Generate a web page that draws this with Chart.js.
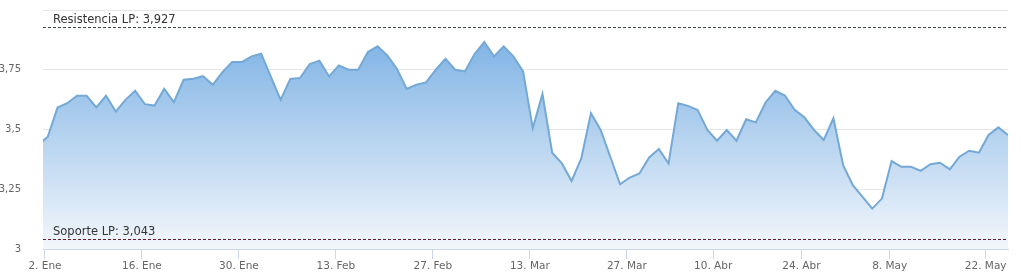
<!DOCTYPE html>
<html>
<head>
<meta charset="utf-8">
<script src="https://cdn.jsdelivr.net/npm/chart.js@4/dist/chart.umd.min.js"></script>
<style>
  html, body { margin: 0; padding: 0; background: #fff; }
  #wrap { width: 1021px; height: 279px; position: relative; }
</style>
</head>
<body>
<div id="wrap"><canvas id="chart"></canvas></div>
<script>
// daily closes, one per trading day (index 0 sits just left of the plot)
const PRECIOS = [
  3.435, 3.47, 3.592, 3.61, 3.641, 3.641, 3.592, 3.641, 3.575, 3.624,
  3.662, 3.606, 3.60, 3.67, 3.614, 3.708, 3.712, 3.723, 3.687, 3.74,
  3.782, 3.782, 3.806, 3.817, 3.72, 3.624, 3.712, 3.715, 3.774, 3.788,
  3.722, 3.768, 3.75, 3.75, 3.824, 3.848, 3.81, 3.753, 3.67, 3.687,
  3.697, 3.75, 3.796, 3.75, 3.743, 3.816, 3.866, 3.806, 3.848, 3.806,
  3.743, 3.505, 3.649, 3.403, 3.358, 3.285, 3.379, 3.568, 3.498, 3.385,
  3.271, 3.299, 3.316, 3.383, 3.418, 3.358, 3.61, 3.599, 3.582, 3.498,
  3.453, 3.498, 3.453, 3.543, 3.53, 3.613, 3.662, 3.642, 3.582, 3.551,
  3.498, 3.456, 3.547, 3.351, 3.267, 3.218, 3.169, 3.211, 3.368, 3.344,
  3.344, 3.327, 3.355, 3.361, 3.333, 3.386, 3.411, 3.403, 3.477, 3.509,
  3.477
];

const TICK_LABELS = ["2. Ene", "16. Ene", "30. Ene", "13. Feb", "27. Feb", "13. Mar",
                     "27. Mar", "10. Abr", "24. Abr", "8. May", "22. May"];
const TICK_POS = [0.7, 10.7, 20.7, 30.7, 40.7, 50.7, 60.7, 69.6, 78.7, 87.8, 97.7];

const RESISTENCIA = 3.927;
const SOPORTE = 3.043;

const fmt = (v) => String(v).replace(".", ",");

// dashed support / resistance lines with their captions
const niveles = {
  id: "niveles",
  afterDatasetsDraw(chart) {
    const { ctx, chartArea, scales } = chart;
    const lines = [
      { v: RESISTENCIA, txt: "Resistencia LP: " + fmt(RESISTENCIA), color: "#3b4a3b" },
      { v: SOPORTE, txt: "Soporte LP: " + fmt(SOPORTE), color: "#6a1b2a" },
    ];
    ctx.save();
    lines.forEach((l) => {
      const y = Math.round(scales.y.getPixelForValue(l.v)) + 0.5;
      ctx.beginPath();
      ctx.setLineDash([3, 2]);
      ctx.lineWidth = 1;
      ctx.strokeStyle = l.color;
      ctx.moveTo(chartArea.left, y);
      ctx.lineTo(chartArea.right, y);
      ctx.stroke();
      ctx.setLineDash([]);
      ctx.fillStyle = "#333";
      ctx.font = "11.5px 'DejaVu Sans'";
      ctx.textBaseline = "alphabetic";
      ctx.fillText(l.txt, chartArea.left + 10, y - 5);
    });
    ctx.restore();
  }
};

const ctx = document.getElementById("chart");
new Chart(ctx, {
  type: "line",
  data: {
    datasets: [{
      data: PRECIOS.map((p, i) => ({ x: i, y: p })),
      borderColor: "#74a8d6",
      borderWidth: 2,
      pointRadius: 0,
      tension: 0,
      fill: "start",
      backgroundColor: (c) => {
        const area = c.chart.chartArea;
        if (!area) return "rgba(124,181,236,0.6)";
        const g = c.chart.ctx.createLinearGradient(0, area.top, 0, area.bottom);
        g.addColorStop(0, "rgb(112,170,225)");
        g.addColorStop(1, "rgb(243,247,252)");
        return g;
      },
    }]
  },
  options: {
    responsive: true,
    maintainAspectRatio: false,
    animation: false,
    layout: { autoPadding: false, padding: { top: 10, right: 13, left: 0, bottom: 0 } },
    plugins: { legend: { display: false }, tooltip: { enabled: false } },
    scales: {
      x: {
        type: "linear",
        min: 0.5,
        max: 100,
        afterFit: (s) => { s.height = 30; s.paddingLeft = 0; s.paddingRight = 0; },
        afterBuildTicks: (s) => { s.ticks = TICK_POS.map((v) => ({ value: v })); },
        ticks: {
          callback: (v, i) => TICK_LABELS[i],
          color: "#666",
          font: { family: "DejaVu Sans", size: 10.5 },
          padding: 1,
          maxRotation: 0,
          autoSkip: false,
        },
        grid: { drawOnChartArea: false, drawTicks: true, tickLength: 10, color: "#ccd6eb" },
        border: { display: true, color: "#ccd6eb" },
      },
      y: {
        min: 3,
        max: 4,
        afterFit: (s) => { s.width = 43; s.paddingTop = 0; s.paddingBottom = 0; },
        ticks: {
          stepSize: 0.25,
          callback: (v) => (v === 4 ? "" : fmt(v)),
          color: "#666",
          font: { family: "DejaVu Sans", size: 10 },
          padding: 22,
        },
        grid: { color: "#e6e6e6", drawTicks: false },
        border: { display: false },
      }
    }
  },
  plugins: [niveles]
});
</script>
</body>
</html>
